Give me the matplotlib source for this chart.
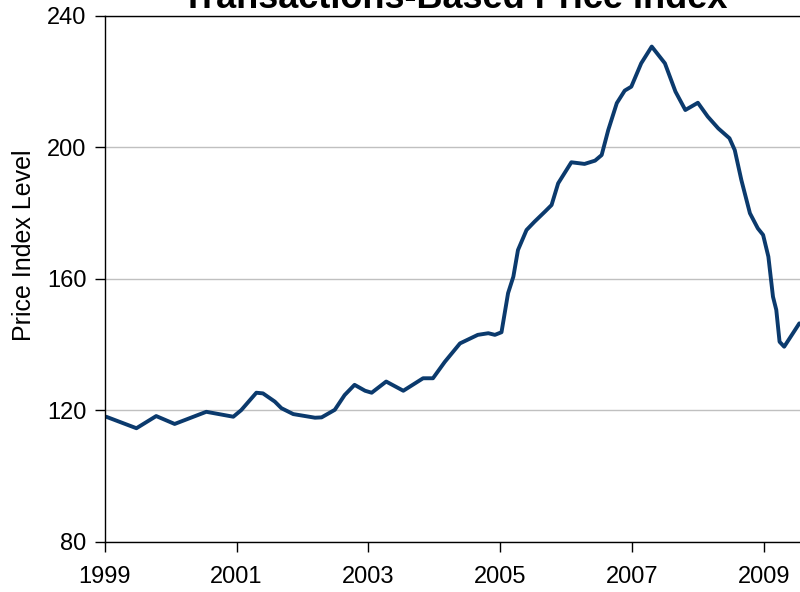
import matplotlib
matplotlib.use("Agg")
import matplotlib.pyplot as plt

# decimal year / index level
years = [1999.02, 1999.48, 1999.78, 2000.06, 2000.54, 2000.95, 2001.07, 2001.30,
         2001.40, 2001.58, 2001.68, 2001.86, 2002.19, 2002.29, 2002.49, 2002.64,
         2002.79, 2002.95, 2003.05, 2003.27, 2003.53, 2003.83, 2003.98, 2004.16,
         2004.39, 2004.66, 2004.82, 2004.92, 2005.02, 2005.12, 2005.20, 2005.27,
         2005.40, 2005.52, 2005.68, 2005.78, 2005.88, 2006.08, 2006.28, 2006.44,
         2006.54, 2006.64, 2006.77, 2006.89, 2006.99, 2007.14, 2007.30, 2007.50,
         2007.66, 2007.81, 2008.00, 2008.15, 2008.31, 2008.48, 2008.56, 2008.66,
         2008.79, 2008.91, 2008.99, 2009.07, 2009.14, 2009.19, 2009.24, 2009.31,
         2009.54]
tbi = [118.1, 114.6, 118.3, 115.9, 119.6, 118.1, 120.1, 125.4,
       125.2, 122.7, 120.7, 118.9, 117.8, 117.9, 120.2, 124.7,
       127.8, 126.0, 125.4, 128.8, 126.0, 129.8, 129.8, 134.8,
       140.4, 143.0, 143.5, 143.0, 143.8, 155.7, 160.7, 168.8,
       174.9, 177.4, 180.5, 182.5, 189.1, 195.5, 195.0, 196.0,
       197.7, 205.3, 213.5, 217.3, 218.5, 225.6, 230.7, 225.6,
       217.0, 211.4, 213.6, 209.4, 205.8, 202.8, 199.2, 190.1,
       180.0, 175.4, 173.4, 166.8, 154.6, 150.6, 140.9, 139.4,
       146.5]

x_ticks = [1999, 2001, 2003, 2005, 2007, 2009]
y_ticks = [80, 120, 160, 200, 240]

plt.rcParams["font.family"] = ["Liberation Sans", "DejaVu Sans"]

fig = plt.figure(figsize=(8, 5.92), dpi=100)
ax = fig.add_axes([0.131, 0.0845, 0.869, 0.8885])

ax.plot(years, tbi, color="#0b3a6d", linewidth=2.8,
        solid_joinstyle="round", solid_capstyle="round")

ax.set_xlim(1999, 2009.55)
ax.set_ylim(80, 240)
ax.set_xticks(x_ticks)
ax.set_xticklabels([str(y) for y in x_ticks])
ax.set_yticks(y_ticks)
ax.yaxis.grid(True, color="#c0c0c0", linewidth=1)
ax.set_axisbelow(True)
ax.tick_params(direction="out", length=7, width=1, labelsize=17, pad=10)
ax.tick_params(axis="y", pad=6)
ax.spines["right"].set_visible(False)
for s in ("left", "bottom", "top"):
    ax.spines[s].set_linewidth(1)
ax.set_ylabel("Price Index Level", fontsize=18)
ax.yaxis.set_label_coords(-0.099, 0.565)

fig.text(0.569, 0.9865, "Transactions-Based Price Index", ha="center",
         va="baseline", fontsize=26, fontweight="bold")

fig.savefig("out.png", dpi=100)
